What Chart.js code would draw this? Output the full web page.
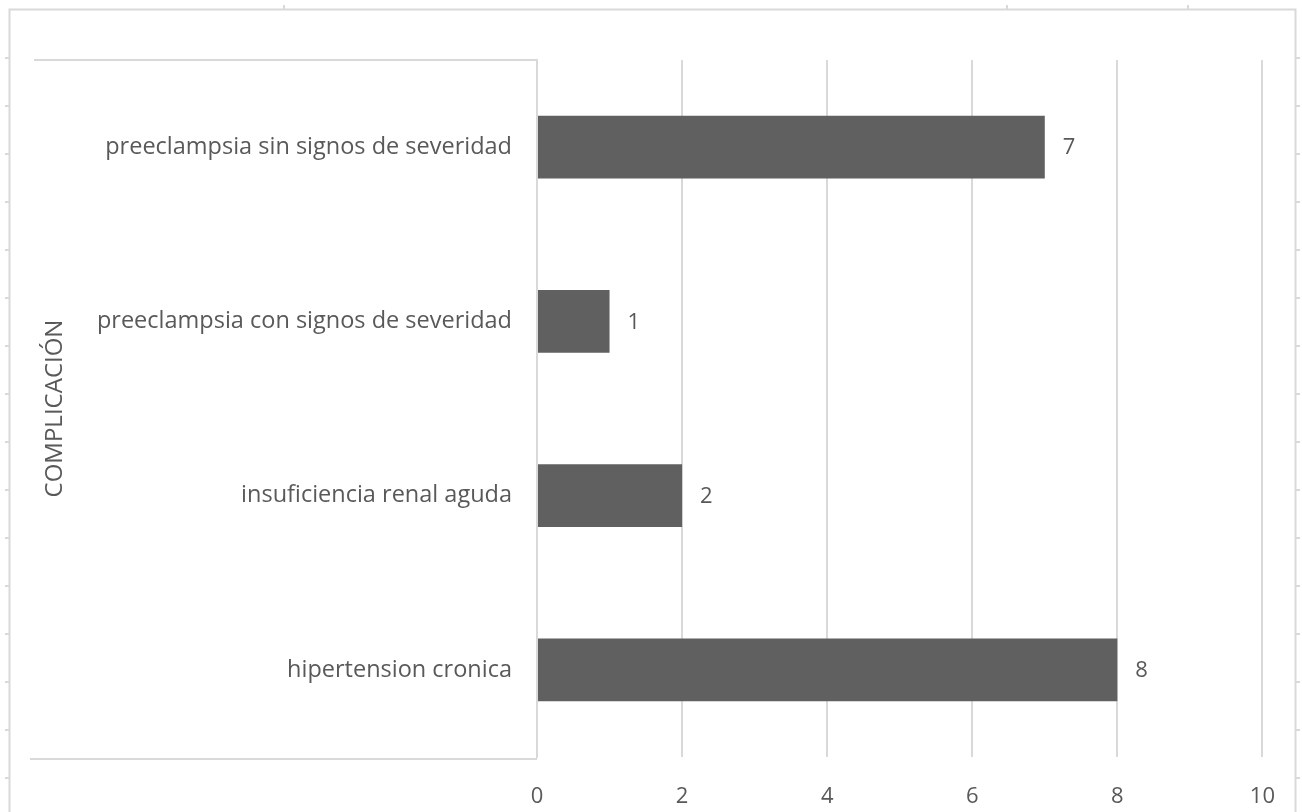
<!DOCTYPE html>
<html>
<head>
<meta charset="utf-8">
<script src="https://cdn.jsdelivr.net/npm/chart.js@4"></script>
<style>
  html, body { margin: 0; padding: 0; background: #fff; }
  #wrap { width: 1302px; height: 812px; position: relative; }
</style>
</head>
<body>
<div id="wrap"><canvas id="chart" width="1302" height="812"></canvas></div>
<script>
// Datos del gráfico
const categorias = [
  'preeclampsia sin signos de severidad',
  'preeclampsia con signos de severidad',
  'insuficiencia renal aguda',
  'hipertension cronica'
];
const valores = [7, 1, 2, 8];
const ejeX = { min: 0, max: 10, step: 2 };
const tituloEjeY = 'COMPLICACIÓN';

const gris = '#d9d9d9';
const texto = '#595959';
const fuente = "'Open Sans', sans-serif";

// marco y lineas de la caja de categorias
const marco = {
  id: 'marco',
  beforeDraw(chart) {
    const ctx = chart.ctx;
    const a = chart.chartArea;
    ctx.save();
    ctx.strokeStyle = gris;
    ctx.lineWidth = 2;
    ctx.beginPath();
    ctx.moveTo(9.5, 812);
    ctx.lineTo(9.5, 9.5);
    ctx.lineTo(1295.5, 9.5);
    ctx.lineTo(1295.5, 812);
    // pequeñas marcas del marco
    for (let y = 58; y < 812; y += 48) {
      ctx.moveTo(5, y); ctx.lineTo(9, y);
      ctx.moveTo(1296, y); ctx.lineTo(1300, y);
    }
    [284, 1007, 1188].forEach(x => { ctx.moveTo(x, 5); ctx.lineTo(x, 9); });
    ctx.stroke();
    ctx.lineWidth = 2;
    ctx.beginPath();
    ctx.moveTo(34, a.top);
    ctx.lineTo(a.left, a.top);
    ctx.moveTo(30, a.bottom + 2);
    ctx.lineTo(a.left, a.bottom + 2);
    ctx.stroke();
    ctx.restore();
  }
};

// etiquetas de valor al final de cada barra
const etiquetas = {
  id: 'etiquetas',
  afterDatasetsDraw(chart) {
    const ctx = chart.ctx;
    const meta = chart.getDatasetMeta(0);
    ctx.save();
    ctx.fillStyle = texto;
    ctx.font = '22px ' + fuente;
    ctx.textAlign = 'left';
    ctx.textBaseline = 'middle';
    meta.data.forEach((bar, i) => {
      ctx.fillText(String(valores[i]), bar.x + 18, bar.y + 1);
    });
    ctx.restore();
  }
};

new Chart(document.getElementById('chart'), {
  type: 'bar',
  data: {
    labels: categorias,
    datasets: [{
      data: valores,
      backgroundColor: '#606060',
      borderWidth: 0,
      barPercentage: 0.36,
      categoryPercentage: 1
    }]
  },
  options: {
    indexAxis: 'y',
    responsive: false,
    animation: false,
    devicePixelRatio: 1,
    layout: { padding: { top: 60, right: 39, left: 0, bottom: 0 } },
    plugins: {
      legend: { display: false },
      tooltip: { enabled: false }
    },
    scales: {
      x: {
        min: ejeX.min,
        max: ejeX.max,
        ticks: {
          stepSize: ejeX.step,
          color: texto,
          font: { family: fuente, size: 22 },
          padding: 27
        },
        grid: { color: gris, lineWidth: 2, drawTicks: false },
        border: { display: false },
        afterFit(scale) { scale.height = 812 - 757; }
      },
      y: {
        ticks: {
          color: texto,
          font: { family: fuente, size: 23.5 },
          padding: 25
        },
        grid: { display: false, drawTicks: false },
        border: { display: true, color: gris, width: 2 },
        title: {
          display: true,
          text: tituloEjeY,
          color: texto,
          font: { family: fuente, size: 24 },
          padding: { top: 41, bottom: 0 }
        },
        afterFit(scale) { scale.width = 537; }
      }
    }
  },
  plugins: [marco, etiquetas]
});
</script>
</body>
</html>
